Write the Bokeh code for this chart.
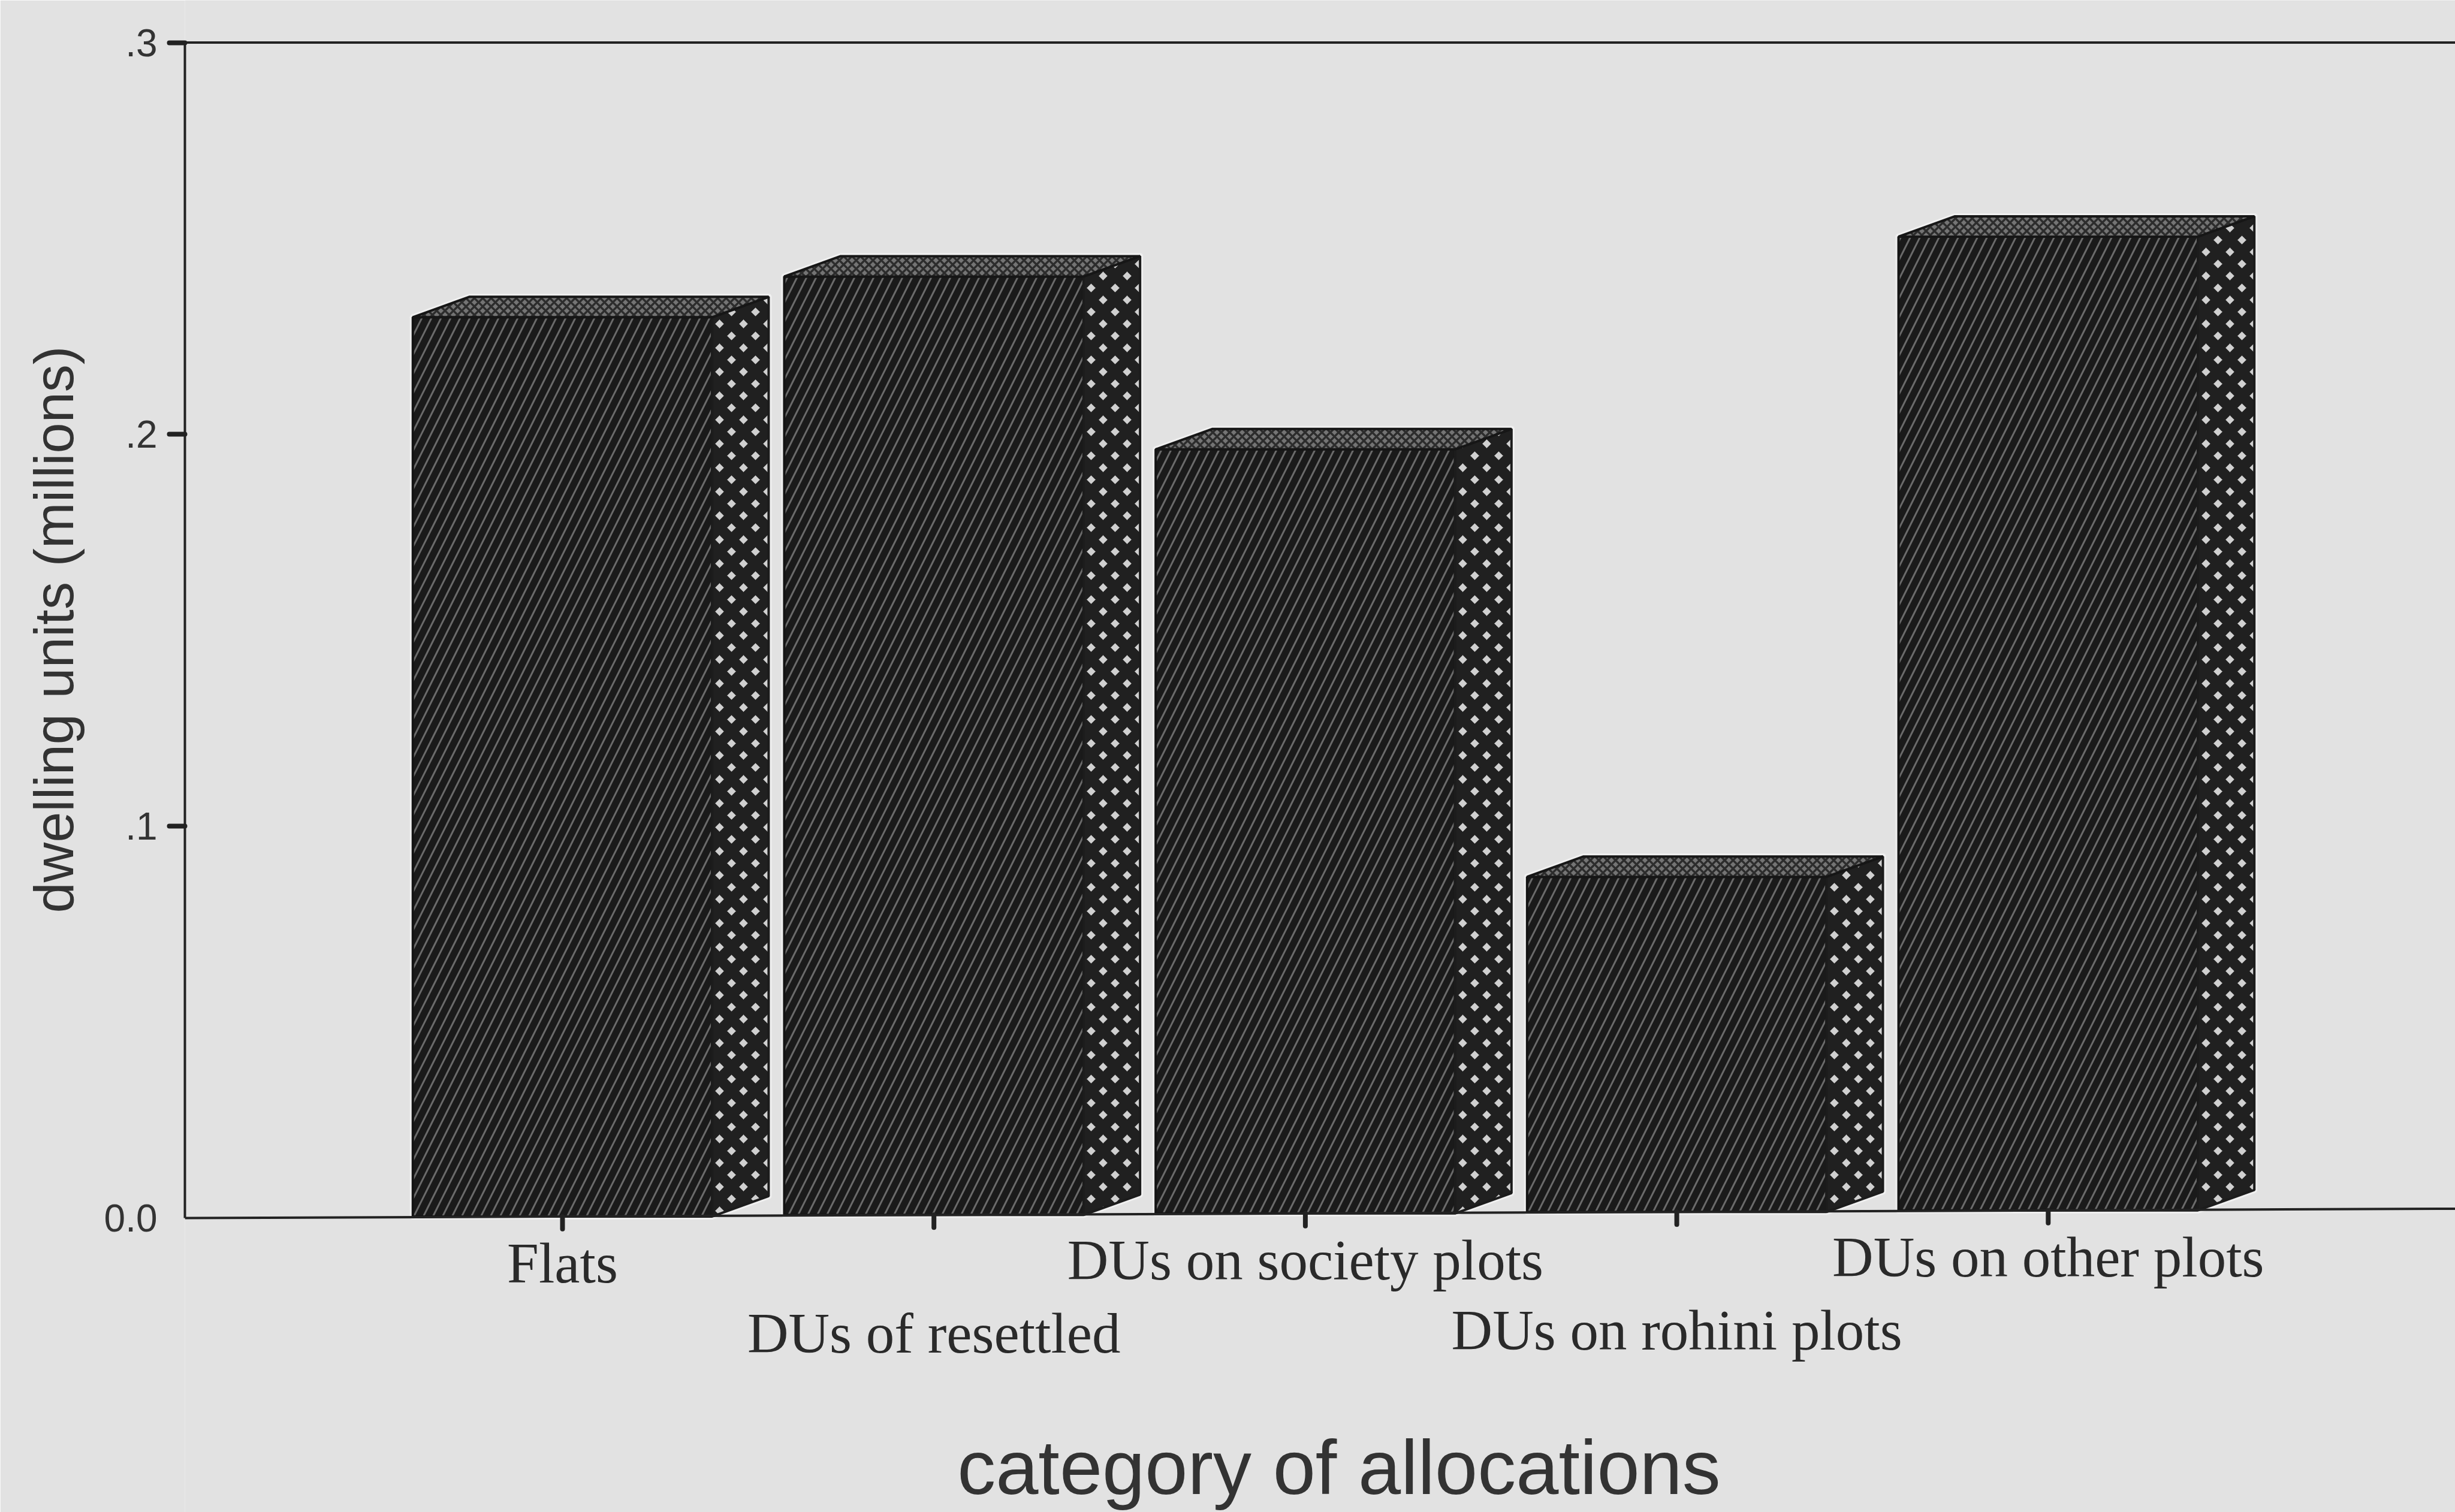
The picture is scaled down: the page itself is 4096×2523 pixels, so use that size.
from bokeh.embed import file_html
from bokeh.resources import INLINE
from bokeh.core.properties import value
from bokeh.models import FixedTicker, Range1d, Title
from bokeh.plotting import figure

# Allocations by category, in millions of dwelling units
categories = ["Flats", "DUs of resettled", "DUs on society plots", "DUs on rohini plots", "DUs on other plots"]
dwelling_units = [0.2295, 0.2395, 0.195, 0.0855, 0.2485]
y_labelled = [0.0, 0.1, 0.2, 0.3]
y_marked = [0.1, 0.2, 0.3]
y_tick_labels = {0.0: "0.0", 0.1: ".1", 0.2: ".2", 0.3: ".3"}

W, H = 4096, 2523
FRAME_LEFT = 308
BASE_PX, TOP_PX = 2032, 70.5          # screen rows of value 0 and value .3
PX_PER_UNIT_Y = (BASE_PX - TOP_PX) / 0.3
PX_PER_CAT = 619.7
TICK_ONE_PX = 938                     # screen column of the first category
SCALE = W / 1568

BG = "#e2e2e2"
INK = "#1a1a1a"
HALO = "#f0f0f0"
TEXT = "#333333"

x_start = 1 - (TICK_ONE_PX - FRAME_LEFT) / PX_PER_CAT
x_end = x_start + (W - FRAME_LEFT) / PX_PER_CAT
y_start = -(H - BASE_PX) / PX_PER_UNIT_Y
y_end = 0.3 + TOP_PX / PX_PER_UNIT_Y

p = figure(width=W, height=H, output_backend="svg", toolbar_location=None,
           x_range=Range1d(x_start, x_end), y_range=Range1d(y_start, y_end),
           min_border_left=FRAME_LEFT, min_border_right=0, min_border_top=0, min_border_bottom=0,
           background_fill_color=BG, border_fill_color=BG, outline_line_color=None)
p.grid.visible = False
p.xaxis.visible = False

# Every value gets a label, but the zero has no tick mark: the marks are the minor ticks
ax = p.yaxis[0]
ax.ticker = FixedTicker(ticks=y_labelled, minor_ticks=y_marked)
ax.major_label_overrides = y_tick_labels
ax.bounds = (0, 0.3)
ax.axis_line_color = "#222222"
ax.axis_line_width = 4
ax.major_tick_line_color = None
ax.major_tick_in = 0
ax.major_tick_out = 26
ax.minor_tick_line_color = "#222222"
ax.minor_tick_line_width = 8
ax.minor_tick_line_cap = "round"
ax.minor_tick_in = 0
ax.minor_tick_out = 26
ax.major_label_standoff = 20
ax.major_label_text_font = "Liberation Sans"
ax.major_label_text_font_size = "64px"
ax.major_label_text_color = TEXT

y_title = Title(text="dwelling units (millions)", align="left", offset=H - 583 * SCALE, standoff=60,
                text_font="Liberation Sans", text_font_size="92px", text_font_style="normal", text_color=TEXT)
p.add_layout(y_title, "left")


def rise(x):
    """The baseline climbs slightly from left to right."""
    return 0.00039 * (x - x_start)


BAR_W = 0.806
DEPTH_X = 0.152
DEPTH_Y = 0.0052

fronts_x, fronts_y, sides_x, sides_y, tops_x, tops_y = [], [], [], [], [], []
for i, v in enumerate(dwelling_units):
    c = i + 1
    b = rise(c)
    l, r = c - BAR_W / 2, c + BAR_W / 2
    t = b + v
    fronts_x.append([l, r, r, l])
    fronts_y.append([b, b, t, t])
    sides_x.append([r, r + DEPTH_X, r + DEPTH_X, r])
    sides_y.append([b, b + DEPTH_Y, t + DEPTH_Y, t])
    tops_x.append([l, r, r + DEPTH_X, l + DEPTH_X])
    tops_y.append([t, t, t + DEPTH_Y, t + DEPTH_Y])

# Sharpened light rim that surrounds each bar
for xs, ys in ((fronts_x, fronts_y), (sides_x, sides_y), (tops_x, tops_y)):
    p.patches(xs, ys, fill_color=HALO, line_color=HALO, line_width=10, line_join="round")

p.patches(fronts_x, fronts_y, fill_color=INK, line_color="#141414", line_width=4,
          hatch_pattern="right_diagonal_line", hatch_color="#6a6a6a", hatch_scale=32, hatch_weight=3)
p.patches(sides_x, sides_y, fill_color="#d0d0d0", line_color="#1c1c1c", line_width=4,
          hatch_pattern="diagonal_cross", hatch_color="#202020", hatch_scale=40, hatch_weight=18)
p.patches(tops_x, tops_y, fill_color="#747474", line_color="#161616", line_width=4,
          hatch_pattern="diagonal_cross", hatch_color="#2c2c2c", hatch_scale=14, hatch_weight=3.5)

# Frame lines and category ticks
p.segment([x_start], [0.0], [x_end], [rise(x_end)], line_color="#222222", line_width=4)
p.segment([x_start], [0.3], [x_end], [0.3], line_color="#222222", line_width=4)
tick_x = [i + 1 for i in range(len(categories))]
p.segment(tick_x, [rise(c) for c in tick_x], tick_x, [rise(c) - 0.0032 for c in tick_x],
          line_color="#222222", line_width=8, line_cap="round")

# Category names alternate between two rows
label_y = [rise(c) for c in tick_x]
label_off = [78 if i % 2 == 0 else 198 for i in range(len(categories))]
p.text(tick_x, label_y, text=categories, y_offset=label_off, text_align="center", text_baseline="middle",
       text_font=value("Liberation Serif"), text_font_size="95px", text_color="#2a2a2a")

# Axis title under the categories, kept just inside the lower edge
title_x = x_start + (855 * SCALE - FRAME_LEFT) / PX_PER_CAT
p.text([title_x], [(BASE_PX - 2448) / PX_PER_UNIT_Y], text=["category of allocations"], text_align="center",
       text_baseline="alphabetic", text_font=value("Liberation Sans"), text_font_size="128px", text_color=TEXT)

open("out.html", "w").write(file_html(p, INLINE))
